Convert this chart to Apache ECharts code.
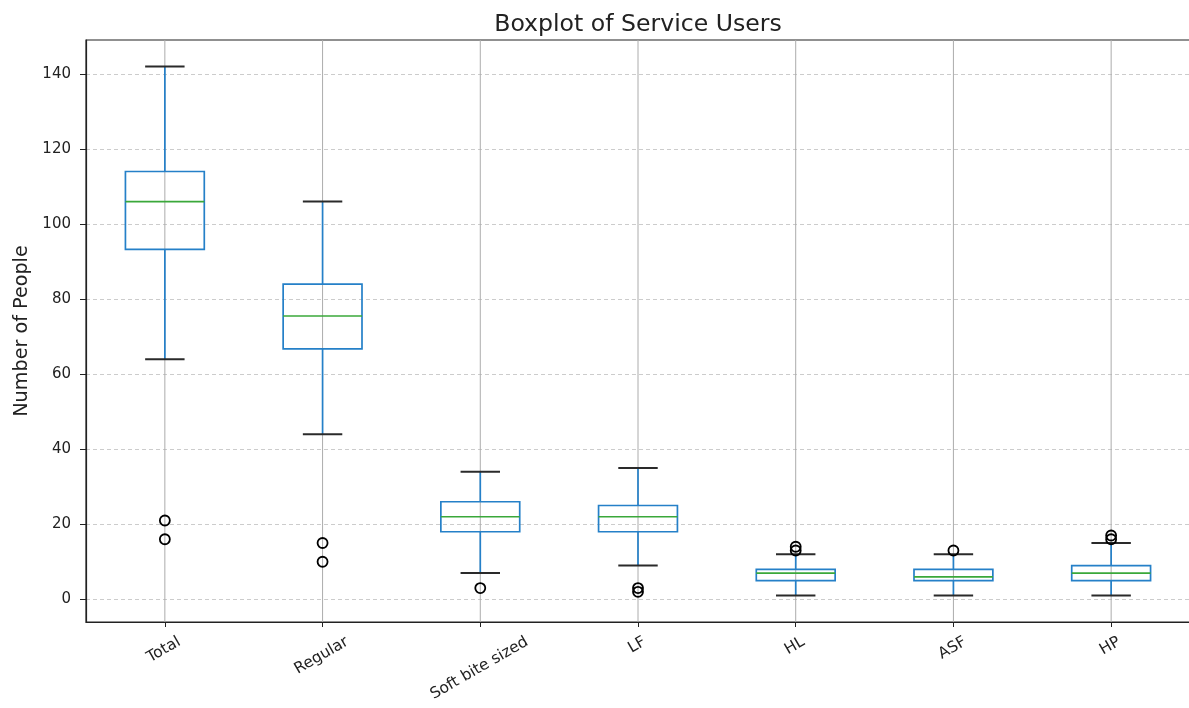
<!DOCTYPE html>
<html>
<head>
<meta charset="utf-8">
<title>Boxplot of Service Users</title>
<script src="https://cdn.jsdelivr.net/npm/echarts@6/dist/echarts.min.js"></script>
<style>
  html, body { margin: 0; padding: 0; background: #ffffff; }
  #chart { width: 1189px; height: 708px; }
</style>
</head>
<body>
<div id="chart"></div>
<script>
// Service user groups
const categories = ['Total', 'Regular', 'Soft bite sized', 'LF', 'HL', 'ASF', 'HP'];

// Five-number summaries per group
const whiskerLow  = [64, 44, 7, 9, 1, 1, 1];
const quartile1   = [93.25, 66.75, 18, 18, 5, 5, 5];
const medians     = [106, 75.5, 22, 22, 7, 6, 7];
const quartile3   = [114, 84, 26, 25, 8, 8, 9];
const whiskerHigh = [142, 106, 34, 35, 12, 12, 15];

// Outliers as [group index, value]
const outliers = [
  [0, 21], [0, 16],
  [1, 15], [1, 10],
  [2, 3],
  [3, 3], [3, 2],
  [4, 14], [4, 13],
  [5, 13],
  [6, 17], [6, 16]
];

// Y tick values shown on the axis
const yTicks = [0, 20, 40, 60, 80, 100, 120, 140];

const FONT = 'DejaVu Sans';
const BOX_BLUE = '#2580c8';
const MEDIAN_GREEN = '#3aa83a';
const Y_LABEL_SIZE = 15;
const X_LABEL_SIZE = 15.5;

const boxRows = categories.map((c, i) => [i, whiskerLow[i], quartile1[i], medians[i], quartile3[i], whiskerHigh[i]]);

const chart = echarts.init(document.getElementById('chart'), null, { renderer: 'canvas' });

function renderGridLine(params, api) {
  const cs = params.coordSys;
  const x = api.coord([api.value(0), 0])[0];
  return {
    type: 'line',
    shape: { x1: x, y1: cs.y, x2: x, y2: cs.y + cs.height },
    style: { stroke: '#acacac', lineWidth: 1 },
    silent: true
  };
}

function renderBox(params, api) {
  const i = api.value(0);
  const pLow = api.coord([i, api.value(1)]);
  const pQ1 = api.coord([i, api.value(2)]);
  const pMed = api.coord([i, api.value(3)]);
  const pQ3 = api.coord([i, api.value(4)]);
  const pHigh = api.coord([i, api.value(5)]);
  const band = api.size([1, 0])[0];
  const bw = band * 0.5;
  const cw = bw * 0.5;
  const x = pMed[0];
  return {
    type: 'group',
    children: [
      { type: 'line', shape: { x1: x, y1: pQ1[1], x2: x, y2: pLow[1] }, style: { stroke: BOX_BLUE, lineWidth: 1.7 } },
      { type: 'line', shape: { x1: x, y1: pQ3[1], x2: x, y2: pHigh[1] }, style: { stroke: BOX_BLUE, lineWidth: 1.7 } },
      { type: 'line', shape: { x1: x - cw / 2, y1: pLow[1], x2: x + cw / 2, y2: pLow[1] }, style: { stroke: '#2a2a2a', lineWidth: 2 } },
      { type: 'line', shape: { x1: x - cw / 2, y1: pHigh[1], x2: x + cw / 2, y2: pHigh[1] }, style: { stroke: '#2a2a2a', lineWidth: 2 } },
      { type: 'rect', shape: { x: x - bw / 2, y: pQ3[1], width: bw, height: pQ1[1] - pQ3[1] }, style: { fill: 'none', stroke: BOX_BLUE, lineWidth: 1.7 } },
      { type: 'line', shape: { x1: x - bw / 2, y1: pMed[1], x2: x + bw / 2, y2: pMed[1] }, style: { stroke: MEDIAN_GREEN, lineWidth: 1.7 } }
    ]
  };
}

const option = {
  backgroundColor: '#ffffff',
  animation: false,
  title: {
    text: 'Boxplot of Service Users',
    left: 633,
    top: 8,
    textAlign: 'center',
    textStyle: { fontFamily: FONT, fontSize: 23.6, fontWeight: 'normal', color: '#222' }
  },
  grid: {
    left: 86, right: -1, top: 40, bottom: 86,
    outerBoundsMode: 'none',
    containLabel: false,
    show: true, borderColor: '#222', borderWidth: 1.2, backgroundColor: 'transparent'
  },
  xAxis: {
    type: 'category',
    data: categories,
    boundaryGap: true,
    axisLine: { show: true, onZero: false, lineStyle: { color: '#222', width: 1.2 } },
    axisTick: { show: true, alignWithLabel: true, length: 5, lineStyle: { color: '#222' } },
    // tick labels are placed below as rotated text centred under each tick
    axisLabel: { show: false },
    splitLine: { show: false }
  },
  yAxis: {
    type: 'value',
    min: -6.05, max: 149.05,
    splitNumber: 8,
    name: 'Number of People',
    nameLocation: 'middle',
    nameRotate: 90,
    nameGap: 51,
    nameTextStyle: { fontFamily: FONT, fontSize: 19.2, color: '#222' },
    axisLine: { show: true, lineStyle: { color: '#222', width: 1.2 } },
    axisTick: { show: true, length: 6, lineStyle: { color: '#222' } },
    axisLabel: {
      margin: 15, fontFamily: FONT, fontSize: Y_LABEL_SIZE, color: '#222',
      showMinLabel: false, showMaxLabel: false,
      formatter: v => (yTicks.indexOf(v) >= 0 ? String(v) : '')
    },
    splitLine: {
      show: true, showMinLine: false, showMaxLine: false,
      lineStyle: { color: '#cccccc', type: [4, 3], width: 1 }
    }
  },
  series: [
    {
      type: 'custom',
      name: 'grid',
      renderItem: renderGridLine,
      data: categories.map((c, i) => [i]),
      encode: { x: 0 },
      z: 1,
      silent: true
    },
    {
      type: 'custom',
      name: 'boxes',
      renderItem: renderBox,
      data: boxRows,
      encode: { x: 0, y: [1, 2, 3, 4, 5] },
      z: 3
    },
    {
      type: 'scatter',
      name: 'outliers',
      data: outliers,
      symbol: 'circle',
      symbolSize: 10,
      itemStyle: { color: 'rgba(0,0,0,0)', borderColor: '#000', borderWidth: 1.8, opacity: 1 },
      z: 4
    }
  ]
};

chart.setOption(option);

// Rotated (30°) category labels: each label's bounding box is centred under
// its tick with the box top just below the axis, so longer names sit lower.
const measureCtx = document.createElement('canvas').getContext('2d');
measureCtx.font = X_LABEL_SIZE + 'px "' + FONT + '"';
const axisBottom = chart.convertToPixel({ yAxisIndex: 0 }, -6.05);
const tickLabels = categories.map((name, i) => {
  const x = chart.convertToPixel({ xAxisIndex: 0 }, i);
  const w = measureCtx.measureText(name).width;
  return {
    type: 'text',
    x: x - 1,
    y: axisBottom + 18.8 + w / 4,
    rotation: Math.PI / 6,
    silent: true,
    style: {
      text: name,
      fontFamily: FONT,
      fontSize: X_LABEL_SIZE,
      fill: '#222',
      align: 'center',
      verticalAlign: 'middle'
    }
  };
});
chart.setOption({ graphic: tickLabels });
</script>
</body>
</html>
